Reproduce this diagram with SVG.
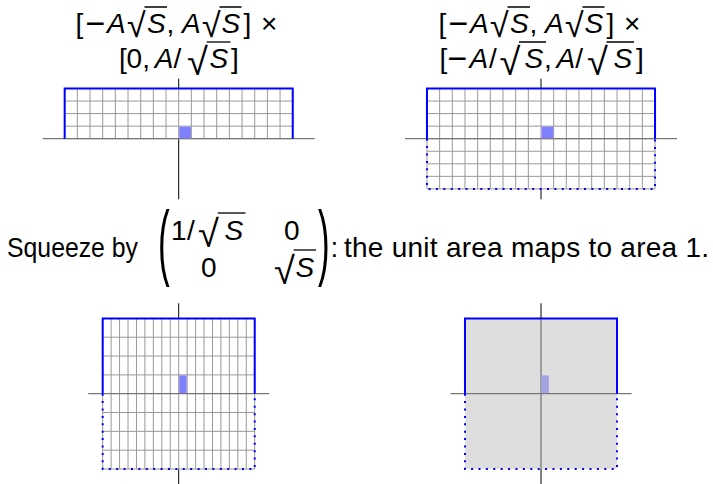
<svg xmlns="http://www.w3.org/2000/svg" width="713" height="484" viewBox="0 0 713 484">
<style>
.t{font-family:"Liberation Sans",Arial,sans-serif;font-size:28px;fill:#000}
.w{word-spacing:-3px}
.i{font-style:italic}
.m{font-size:34px}
.r{font-size:38px}
.grid{stroke:#999;stroke-width:1;fill:none}
.hax{stroke:#777;stroke-width:1.3;fill:none}
.vax{stroke:#000;stroke-width:1;fill:none}
.solid{stroke:#00f;stroke-width:2;fill:none}
.dot{stroke:#00f;stroke-width:2;stroke-dasharray:2 5.4;fill:none}
.unit{fill:#8080ff}
.vin{stroke:#000;stroke-width:1.3}
</style>
<defs>
<path id="vlinesTop" d="M-114.03 -50.2V0M-101.36 -50.2V0M-88.69 -50.2V0M-76.02 -50.2V0M-63.35 -50.2V0M-50.68 -50.2V0M-38.01 -50.2V0M-25.34 -50.2V0M-12.67 -50.2V0M0 -50.2V0M12.67 -50.2V0M25.34 -50.2V0M38.01 -50.2V0M50.68 -50.2V0M63.35 -50.2V0M76.02 -50.2V0M88.69 -50.2V0M101.36 -50.2V0M114.03 -50.2V0"/>
<path id="hlinesTop" d="M-114.03 -37.65H114.03M-114.03 -25.1H114.03M-114.03 -12.55H114.03M-114.03 0H114.03"/>
</defs>

<g id="panel-top-left" transform="translate(178.7,138.7)">
<path class="vax" d="M0 -60V60.6"/>
<rect x="-114.03" y="-50.2" width="228.06" height="50.2" fill="#fff"/>
<use href="#vlinesTop" class="grid"/>
<use href="#hlinesTop" class="grid"/>
<path class="hax" d="M-136 0H136"/>
<rect class="unit" x="0.5" y="-12.05" width="11.7" height="11.7"/>
<path class="solid" d="M-114.03 0V-50.2H114.03V0"/>
</g>

<g id="panel-top-right" transform="translate(541,138.7)">
<path class="vax" d="M0 -60V60.6"/>
<rect x="-114.03" y="-50.2" width="228.06" height="100.4" fill="#fff"/>
<use href="#vlinesTop" class="grid"/>
<use href="#vlinesTop" class="grid" transform="translate(0,50.2)"/>
<use href="#hlinesTop" class="grid"/>
<path class="grid" d="M-114.03 12.55H114.03M-114.03 25.1H114.03M-114.03 37.65H114.03M-114.03 50.2H114.03"/>
<path class="hax" d="M-136 0H136"/>
<rect class="unit" x="0.5" y="-12.05" width="11.7" height="11.7"/>
<path class="solid" d="M-114.03 0V-50.2H114.03V0"/>
<path class="dot" d="M-114.03 0V50.2H114.03V0"/>
</g>

<g id="panel-bottom-left" transform="translate(178.7,393.7)">
<path class="vax" d="M0 -90.4V90.3"/>
<rect x="-76.02" y="-75.3" width="152.04" height="150.6" fill="#fff"/>
<path class="grid" d="M-76.02 -75.3V75.3M-67.57 -75.3V75.3M-59.13 -75.3V75.3M-50.68 -75.3V75.3M-42.23 -75.3V75.3M-33.79 -75.3V75.3M-25.34 -75.3V75.3M-16.89 -75.3V75.3M-8.45 -75.3V75.3M0 -75.3V75.3M8.45 -75.3V75.3M16.89 -75.3V75.3M25.34 -75.3V75.3M33.79 -75.3V75.3M42.23 -75.3V75.3M50.68 -75.3V75.3M59.13 -75.3V75.3M67.57 -75.3V75.3M76.02 -75.3V75.3"/>
<path class="grid" d="M-76.02 -56.48H76.02M-76.02 -37.65H76.02M-76.02 -18.83H76.02M-76.02 18.83H76.02M-76.02 37.65H76.02M-76.02 56.48H76.02M-76.02 75.3H76.02"/>
<path class="hax" d="M-90.5 0H90.5"/>
<rect class="unit" x="0.5" y="-18.33" width="7.45" height="17.7"/>
<path class="solid" d="M-76.02 0V-75.3H76.02V0"/>
<path class="dot" d="M-76.02 0V75.3H76.02V0"/>
</g>

<g id="panel-bottom-right" transform="translate(541,393.7)">
<path class="vax" d="M0 -90.4V90.3"/>
<rect x="-76.02" y="-75.3" width="152.04" height="150.6" fill="#dedede"/>
<path d="M0 -75.3V75.3" stroke="#5c5c5c" stroke-width="1"/>
<path class="hax" d="M-90.5 0H90.5"/>
<rect x="0.5" y="-18.33" width="7.45" height="17.7" fill="#a4a4e4"/>
<path class="solid" d="M-76.02 0V-75.3H76.02V0"/>
<path class="dot" d="M-76.02 0V75.3H76.02V0"/>
</g>

<g id="label-top-left">
<text class="t w" y="33"><tspan x="75.5">[</tspan><tspan x="85.5" y="35" class="m">−</tspan><tspan x="107" y="33" class="i">A</tspan><tspan x="127" y="37" class="m">√</tspan><tspan x="147" y="33" class="i">S</tspan><tspan x="166.5">, </tspan><tspan x="182" class="i">A</tspan><tspan x="202" y="37" class="m">√</tspan><tspan x="221.5" y="33" class="i">S</tspan><tspan x="243.5">]</tspan><tspan x="256.2"> ×</tspan></text>
<path class="vin" d="M144.5 7H167M219.5 7H241.5"/>
<text class="t w" y="68"><tspan x="119">[</tspan><tspan x="126.5">0</tspan><tspan x="142.2">, </tspan><tspan x="154.8" class="i">A</tspan><tspan x="173.5">/</tspan><tspan x="187" y="75" class="r">√</tspan><tspan x="209.5" y="68" class="i">S</tspan><tspan x="231">]</tspan></text>
<path class="vin" d="M206.7 42H230.5"/>
</g>

<g id="label-top-right">
<text class="t w" y="33"><tspan x="438.5">[</tspan><tspan x="448.5" y="35" class="m">−</tspan><tspan x="470" y="33" class="i">A</tspan><tspan x="490" y="37" class="m">√</tspan><tspan x="510" y="33" class="i">S</tspan><tspan x="529.5">, </tspan><tspan x="545" class="i">A</tspan><tspan x="565" y="37" class="m">√</tspan><tspan x="584.5" y="33" class="i">S</tspan><tspan x="606.5">]</tspan><tspan x="619.2"> ×</tspan></text>
<path class="vin" d="M507.5 7H530M582.5 7H604.5"/>
<text class="t w" y="68"><tspan x="439.5">[</tspan><tspan x="447.5" y="70" class="m">−</tspan><tspan x="469.5" y="68" class="i">A</tspan><tspan x="489">/</tspan><tspan x="499.5" y="75" class="r">√</tspan><tspan x="524.5" y="68" class="i">S</tspan><tspan x="544">, </tspan><tspan x="556.6" class="i">A</tspan><tspan x="575.3">/</tspan><tspan x="587" y="75" class="r">√</tspan><tspan x="613.5" y="68" class="i">S</tspan><tspan x="636">]</tspan></text>
<path class="vin" d="M519 42H546M606.5 42H634"/>
</g>

<g id="caption">
<text class="t" x="7" y="257" textLength="131" lengthAdjust="spacingAndGlyphs">Squeeze by</text>
<text class="t" transform="translate(158,270) scale(1.25,2.95)">(</text>
<text class="t" y="240"><tspan x="171">1</tspan><tspan x="187">/</tspan><tspan x="198" y="247" class="r">√</tspan><tspan x="224.5" y="240" class="i">S</tspan></text>
<path class="vin" d="M217.7 213H245.5"/>
<text class="t" x="284" y="240">0</text>
<text class="t" x="201" y="277">0</text>
<text class="t" y="277"><tspan x="274" y="284" class="r">√</tspan><tspan x="295.5" y="277" class="i">S</tspan></text>
<path class="vin" d="M293.7 250H316"/>
<text class="t" transform="translate(318,270) scale(1.25,2.95)">)</text>
<text class="t" x="330.5" y="257">:</text>
<text class="t" x="344" y="257" textLength="365" lengthAdjust="spacing">the unit area maps to area 1.</text>
</g>
</svg>
